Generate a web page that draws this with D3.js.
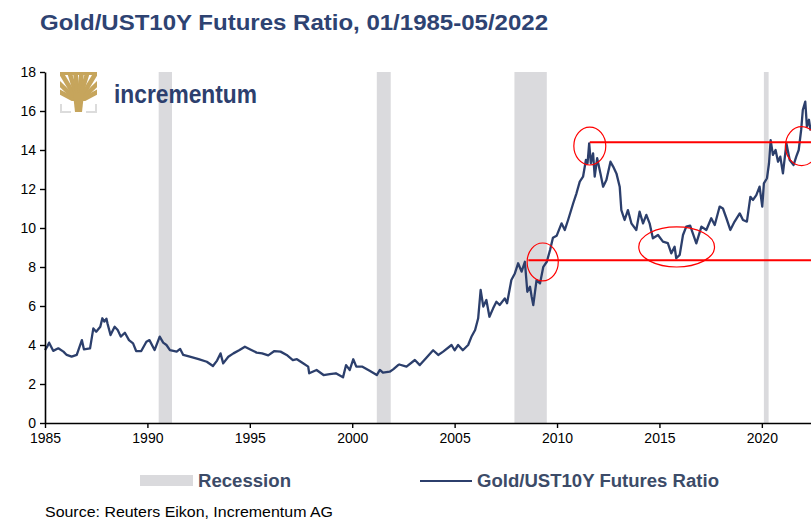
<!DOCTYPE html>
<html>
<head>
<meta charset="utf-8">
<script src="https://cdn.jsdelivr.net/npm/d3@7"></script>
<style>
  body { margin: 0; background: #fff; }
  svg { display: block; }
  text { font-family: "Liberation Sans", Arial, sans-serif; }
  .narrow { font-family: "Liberation Sans Narrow", "Arial Narrow", "Liberation Sans", Arial, sans-serif; font-stretch: condensed; }
</style>
</head>
<body>
<svg width="811" height="520"></svg>
<script>
// decimal years and ratio values
const years = [
  1985.0, 1985.1, 1985.2, 1985.4, 1985.65, 1985.9, 1986.06, 1986.3, 1986.55, 1986.8,
  1986.9, 1987.2, 1987.36, 1987.5, 1987.7, 1987.8, 1987.9, 1988.0, 1988.05, 1988.2,
  1988.4, 1988.55, 1988.7, 1988.9, 1989.1, 1989.3, 1989.45, 1989.7, 1989.95, 1990.1,
  1990.35, 1990.6, 1990.77, 1990.93, 1991.1, 1991.43, 1991.6, 1991.75, 1992.07, 1992.5,
  1992.9, 1993.2, 1993.4, 1993.57, 1993.7, 1993.95, 1994.2, 1994.5, 1994.76, 1995.0,
  1995.33, 1995.6, 1995.9, 1996.2, 1996.5, 1996.8, 1997.1, 1997.3, 1997.6, 1997.85,
  1997.9, 1998.26, 1998.6, 1998.9, 1999.2, 1999.55, 1999.7, 1999.88, 2000.05, 2000.2,
  2000.5, 2000.85, 2001.2, 2001.35, 2001.5, 2001.83, 2002.0, 2002.24, 2002.3, 2002.65,
  2003.06, 2003.3, 2003.6, 2003.95, 2004.2, 2004.44, 2004.85, 2005.0, 2005.17, 2005.4,
  2005.66, 2005.82, 2006.0, 2006.15, 2006.27, 2006.4, 2006.55, 2006.7, 2006.88, 2007.04,
  2007.2, 2007.45, 2007.56, 2007.77, 2007.94, 2008.1, 2008.27, 2008.43, 2008.55, 2008.68,
  2008.76, 2008.84, 2009.0, 2009.17, 2009.33, 2009.5, 2009.66, 2009.8, 2009.98, 2010.22,
  2010.38, 2010.54, 2010.79, 2010.95, 2011.11, 2011.27, 2011.41, 2011.49, 2011.57, 2011.65,
  2011.76, 2011.84, 2011.96, 2012.12, 2012.25, 2012.41, 2012.61, 2012.74, 2012.9, 2013.06,
  2013.14, 2013.3, 2013.46, 2013.63, 2013.87, 2014.03, 2014.2, 2014.36, 2014.52, 2014.68,
  2014.93, 2015.17, 2015.41, 2015.58, 2015.74, 2015.82, 2015.99, 2016.15, 2016.31, 2016.5,
  2016.8, 2017.05, 2017.29, 2017.53, 2017.7, 2017.94, 2018.1, 2018.27, 2018.46, 2018.67,
  2018.92, 2019.08, 2019.27, 2019.44, 2019.57, 2019.73, 2019.89, 2020.02, 2020.1, 2020.25,
  2020.35, 2020.43, 2020.54, 2020.67, 2020.79, 2020.9, 2021.03, 2021.2, 2021.36, 2021.55,
  2021.68, 2021.8, 2021.92, 2022.0, 2022.12, 2022.2, 2022.3, 2022.38
];
const ratio = [
  3.74, 3.9, 4.12, 3.7, 3.83, 3.66, 3.49, 3.4, 3.49, 4.25,
  3.78, 3.83, 4.85, 4.68, 4.94, 5.37, 5.2, 5.35, 5.11, 4.51,
  4.94, 4.77, 4.43, 4.63, 4.25, 4.08, 3.69, 3.69, 4.17, 4.25,
  3.74, 4.43, 4.12, 4.0, 3.74, 3.66, 3.8, 3.49, 3.4, 3.28,
  3.14, 2.92, 3.2, 3.57, 3.06, 3.4, 3.57, 3.74, 3.91, 3.78,
  3.61, 3.57, 3.47, 3.69, 3.66, 3.49, 3.23, 3.27, 3.06, 2.89,
  2.55, 2.72, 2.46, 2.51, 2.55, 2.34, 2.97, 2.72, 3.27, 2.89,
  2.89, 2.68, 2.46, 2.72, 2.58, 2.63, 2.75, 2.97, 3.0, 2.89,
  3.23, 2.97, 3.32, 3.73, 3.49, 3.66, 4.0, 3.73, 4.0, 3.73,
  4.0, 4.42, 4.77, 5.37, 6.82, 5.97, 6.31, 5.45, 5.88, 6.22,
  6.05, 6.39, 6.14, 7.33, 7.67, 8.19, 7.76, 8.27, 6.73, 6.99,
  6.48, 6.05, 7.33, 7.16, 8.01, 8.27, 8.87, 9.5, 9.6, 10.24,
  9.9, 10.41, 11.27, 11.78, 12.38, 12.63, 13.49, 13.32, 14.34, 13.32,
  13.83, 12.63, 13.58, 12.8, 12.12, 12.46, 13.4, 13.15, 12.8, 12.12,
  10.92, 10.41, 10.92, 10.24, 9.9, 10.84, 10.24, 10.67, 10.24, 9.47,
  9.64, 9.3, 9.22, 8.7, 9.04, 8.45, 8.62, 9.64, 10.07, 10.12,
  9.21, 10.07, 9.9, 10.5, 10.15, 11.1, 11.0, 10.5, 9.9, 10.33,
  10.75, 10.41, 10.33, 11.6, 11.44, 11.69, 12.12, 11.1, 12.29, 12.55,
  13.32, 14.51, 13.75, 14.0, 13.4, 13.66, 12.8, 14.34, 13.49, 13.23,
  13.66, 14.0, 15.03, 16.05, 16.48, 15.2, 15.55, 15.0
];

// US recessions (decimal years)
const recessionStart = [1990.55, 2001.2, 2007.92, 2020.1];
const recessionEnd   = [1991.2, 2001.88, 2009.5, 2020.33];

// red annotation lines: level, starting year
const levels = [14.4, 8.35];
const levelStart = [2011.6, 2008.6];

// red ellipses: centre year, centre value, half-width (years), half-height (ratio)
const ellipseYear = [2011.6, 2009.3, 2015.84, 2021.95];
const ellipseValue = [14.2, 8.26, 9.03, 14.2];
const ellipseRx = [0.78, 0.76, 1.85, 0.8];
const ellipseRy = [0.97, 0.97, 1.03, 1.0];

const yTicks = [0, 2, 4, 6, 8, 10, 12, 14, 16, 18];
const xTicks = [1985, 1990, 1995, 2000, 2005, 2010, 2015, 2020];

const navy = "#2c3f6c";
const gold = "#c6a55c";
const svg = d3.select("svg");

const margin = {top: 72, right: 0, bottom: 97, left: 45};
const width = 811, height = 520;

const x = d3.scaleLinear().domain([1985, 2022.4]).range([margin.left, width - margin.right]);
const y = d3.scaleLinear().domain([0, 18]).range([height - margin.bottom, margin.top]);

// recession bands
svg.append("g").selectAll("rect")
  .data(recessionStart)
  .join("rect")
  .attr("x", d => x(d))
  .attr("width", (d, i) => x(recessionEnd[i]) - x(d))
  .attr("y", y(18))
  .attr("height", y(0) - y(18))
  .attr("fill", "#dadadd");

// logo
const logo = svg.append("g").attr("transform", "translate(60,72)");
logo.append("clipPath").attr("id", "treeclip")
  .append("rect").attr("x", 0).attr("y", 0).attr("width", 37).attr("height", 29);
const crown = logo.append("g").attr("clip-path", "url(#treeclip)")
  .attr("stroke", gold).attr("fill", "none");
[-62, -46, -31, -17, -6, 6, 17, 31, 46, 62].forEach(a => {
  const r = a * Math.PI / 180;
  crown.append("line")
    .attr("x1", 18.5).attr("y1", 30)
    .attr("x2", 18.5 + Math.sin(r) * 42).attr("y2", 30 - Math.cos(r) * 42)
    .attr("stroke-width", 4.6);
});
crown.append("rect").attr("x", 0).attr("y", 0).attr("width", 37).attr("height", 3).attr("fill", gold).attr("stroke", "none");
logo.append("path")
  .attr("d", "M13,22 L24,22 L22,40 L15,40 Z")
  .attr("fill", gold);
logo.append("path").attr("d", "M1,32 V40 H11").attr("fill", "none").attr("stroke", "#dcdcdc").attr("stroke-width", 2);
logo.append("path").attr("d", "M36,32 V40 H26").attr("fill", "none").attr("stroke", "#dcdcdc").attr("stroke-width", 2);
svg.append("text")
  .attr("x", 114).attr("y", 103)
  .attr("font-size", 25).attr("font-weight", "bold")
  .attr("fill", "#2d3f6e")
  .attr("textLength", 143).attr("lengthAdjust", "spacingAndGlyphs")
  .text("incrementum");

// series line
const line = d3.line()
  .x((d, i) => x(years[i]))
  .y(d => y(d));
svg.append("path")
  .datum(ratio)
  .attr("d", line)
  .attr("fill", "none")
  .attr("stroke", navy)
  .attr("stroke-width", 2.3)
  .attr("stroke-linejoin", "round");

// red horizontal levels
svg.append("g").selectAll("line")
  .data(levels)
  .join("line")
  .attr("x1", (d, i) => x(levelStart[i]))
  .attr("x2", x(2022.4))
  .attr("y1", d => y(d))
  .attr("y2", d => y(d))
  .attr("stroke", "#ff0000")
  .attr("stroke-width", 2);

// red ellipses
svg.append("g").selectAll("ellipse")
  .data(ellipseYear)
  .join("ellipse")
  .attr("cx", d => x(d))
  .attr("cy", (d, i) => y(ellipseValue[i]))
  .attr("rx", (d, i) => x(d + ellipseRx[i]) - x(d))
  .attr("ry", (d, i) => y(0) - y(ellipseRy[i]))
  .attr("fill", "none")
  .attr("stroke", "#ff0000")
  .attr("stroke-width", 1.2);

// axes
const xAxis = svg.append("g")
  .attr("transform", `translate(0,${y(0)})`)
  .call(d3.axisBottom(x).tickValues(xTicks).tickFormat(d3.format("d")).tickSize(5).tickPadding(5).tickSizeOuter(0));
const yAxis = svg.append("g")
  .attr("transform", `translate(${margin.left},0)`)
  .call(d3.axisLeft(y).tickValues(yTicks).tickSize(5).tickPadding(4).tickSizeOuter(0));
[xAxis, yAxis].forEach(a => {
  a.select(".domain").attr("stroke", "#000").attr("stroke-width", 1.6);
  a.selectAll(".tick line").attr("stroke", "#000").attr("stroke-width", 1.4);
  a.selectAll(".tick text").attr("fill", "#000").attr("font-size", 14)
    .attr("font-family", "'Liberation Sans', Arial, sans-serif");
});

// title
svg.append("text")
  .attr("class", "narrow")
  .attr("x", 40).attr("y", 30)
  .attr("font-size", 22).attr("font-weight", "bold")
  .attr("fill", "#2e4372")
  .attr("textLength", 508).attr("lengthAdjust", "spacingAndGlyphs")
  .text("Gold/UST10Y Futures Ratio, 01/1985-05/2022");

// legend
const legend = svg.append("g");
legend.append("rect").attr("x", 140).attr("y", 475).attr("width", 53).attr("height", 11).attr("fill", "#dadadd");
legend.append("text").attr("class", "narrow")
  .attr("x", 198).attr("y", 487).attr("font-size", 18).attr("font-weight", "bold")
  .attr("fill", "#3c4b68")
  .attr("textLength", 93).attr("lengthAdjust", "spacingAndGlyphs")
  .text("Recession");
legend.append("line").attr("x1", 420).attr("x2", 472).attr("y1", 481).attr("y2", 481)
  .attr("stroke", navy).attr("stroke-width", 2);
legend.append("text").attr("class", "narrow")
  .attr("x", 477).attr("y", 487).attr("font-size", 18).attr("font-weight", "bold")
  .attr("fill", "#3c4b68")
  .attr("textLength", 242).attr("lengthAdjust", "spacingAndGlyphs")
  .text("Gold/UST10Y Futures Ratio");

// source
svg.append("text").attr("class", "narrow")
  .attr("x", 45).attr("y", 517).attr("font-size", 14.5)
  .attr("fill", "#000")
  .attr("textLength", 288).attr("lengthAdjust", "spacingAndGlyphs")
  .text("Source: Reuters Eikon, Incrementum AG");
</script>
</body>
</html>
